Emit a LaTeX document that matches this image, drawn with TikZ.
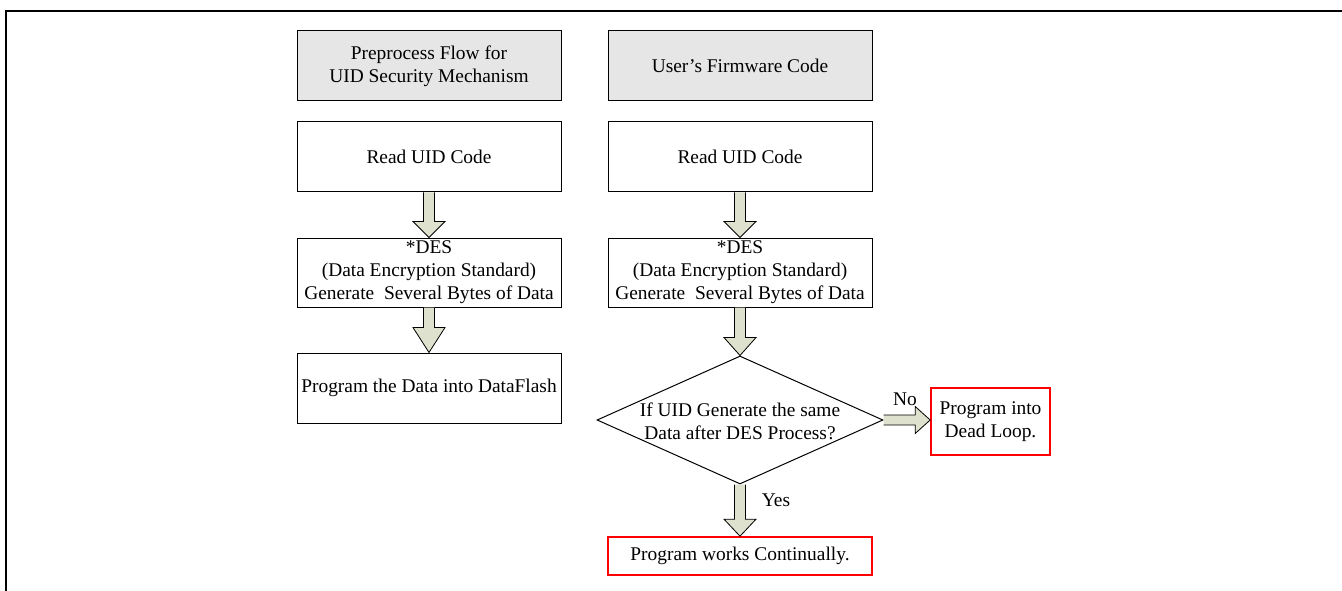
\documentclass[tikz,border=0pt]{standalone}
\usepackage{fontspec}
\setmainfont{Liberation Serif}
\usetikzlibrary{shapes.geometric,calc}
\definecolor{arrowfill}{RGB}{221,225,205}
\definecolor{headfill}{RGB}{230,230,230}
\newcommand{\fatdown}[3]{%
  \draw[fat] let \p1=(#1.south), \p2=(#2.north) in
    (\x1-5.5pt,\y1) -- (\x1-5.5pt,\y2+#3pt) -- (\x1-16pt,\y2+#3pt) -- (\x1,\y2)
    -- (\x1+16pt,\y2+#3pt) -- (\x1+5.5pt,\y2+#3pt) -- (\x1+5.5pt,\y1);}
\begin{document}
\begin{tikzpicture}[x=1pt,y=-1pt,
  font=\fontsize{19.4}{23}\selectfont,
  box/.style={draw, line width=1pt, minimum width=264pt, minimum height=70pt, align=center, inner sep=0pt},
  headbox/.style={box, fill=headfill},
  redbox/.style={draw=red, line width=1.6pt, align=center, inner sep=0pt},
  fat/.style={draw, line width=0.8pt, fill=arrowfill, line join=miter}]
\useasboundingbox (0,0) rectangle (1342,591);
\draw[line width=2pt] (6,591) -- (6,11) -- (1342,11);

\node[headbox] (h1) at (429,66) {Preprocess Flow for\\UID Security Mechanism};
\node[headbox] (h2) at (740,66) {User’s Firmware Code};
\node[box] (r1) at (429,157) {Read UID Code};
\node[box] (r2) at (740,157) {Read UID Code};
\node[box, minimum height=69pt] (d1) at (429,272.5) {*DES\\(Data Encryption Standard)\\Generate\ \ Several Bytes of Data};
\node[box, minimum height=69pt] (d2) at (740,272.5) {*DES\\(Data Encryption Standard)\\Generate\ \ Several Bytes of Data};
\node[box] (p1) at (429,388) {Program the Data into DataFlash};
\node[diamond, draw, line width=1pt, minimum width=286pt, minimum height=128pt, inner sep=0pt] (q) at (740,420) {};
\node[align=center, inner sep=0pt] (qt) at (740,421) {If UID Generate the same\\Data after DES Process?};
\node[redbox, minimum width=119pt, minimum height=67pt] (dl) at (990.5,421.5) {Program into\\Dead Loop.};
\node[redbox, minimum width=264pt, minimum height=38pt] (pw) at (740,556) {Program works Continually.};
\node[inner sep=0pt] (no) at (905,399) {No};
\node[inner sep=0pt] (yes) at (776,500) {Yes};

\fatdown{r1}{d1}{16}
\fatdown{d1}{p1}{25}
\fatdown{r2}{d2}{16}
\fatdown{d2}{q}{18}
\fatdown{q}{pw}{17}
\draw[fat] let \p1=(q.east), \p2=(dl.west) in
  (\x1,\y1+5pt) -- (\x2-15pt,\y1+5pt) -- (\x2-15pt,\y1+13.5pt) -- (\x2,\y1)
  -- (\x2-15pt,\y1-13.5pt) -- (\x2-15pt,\y1-5pt) -- (\x1,\y1-5pt);
\end{tikzpicture}
\end{document}
